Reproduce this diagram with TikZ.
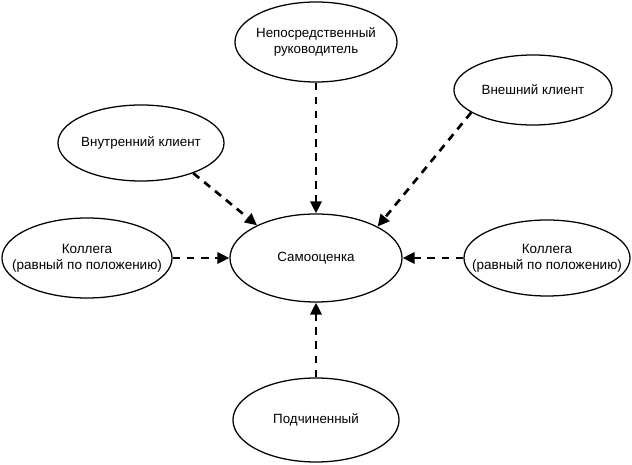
\documentclass[tikz,border=0pt]{standalone}
\usepackage{fontspec}
\setmainfont{Liberation Sans}
\usetikzlibrary{shapes.geometric, arrows.meta}
\tikzset{
    role node/.style={ellipse, draw, line width=0.9pt, font=\fontsize{9.5}{11}\selectfont, align=center, inner xsep=-8pt, inner ysep=0pt},
    peer node/.style={role node, font=\fontsize{9.6}{11.5}\selectfont, inner xsep=-26pt},
    link/.style={line width=1.9pt, dash pattern=on 5.5pt off 4.5pt, -{Triangle[length=8.5pt, width=8pt]}},
}

\begin{document}
\begin{tikzpicture}[x={(0.025cm,0)}, y={(0,-0.025cm)}]
    \useasboundingbox (0,0) rectangle (632,465);
    \node[role node, minimum width=4.05cm, minimum height=2.0cm] (boss) at (316,42) {Непосредственный\\руководитель};
    \node[role node, minimum width=3.95cm, minimum height=1.75cm] (outer) at (533,90) {Внешний клиент};
    \node[role node, minimum width=4.15cm, minimum height=1.9cm] (inner) at (141,143) {Внутренний клиент};
    \node[role node, minimum width=4.3cm, minimum height=2.2cm] (self) at (316,258) {Самооценка};
    \node[peer node, minimum width=4.25cm, minimum height=2.0cm] (peerl) at (87,258) {Коллега\\(равный по положению)};
    \node[peer node, minimum width=4.15cm, minimum height=1.9cm] (peerr) at (547,258) {Коллега\\(равный по положению)};
    \node[role node, minimum width=4.15cm, minimum height=2.1cm] (sub) at (316,420) {Подчиненный};

    \draw[link] (boss.south) -- (self.north);
    \draw[link] (inner.-30) -- (self.151);
    \draw[link] (outer.200) -- (self.27);
    \draw[link] (peerl.east) -- (self.west);
    \draw[link] (peerr.west) -- (self.east);
    \draw[link] (sub.north) -- (self.south);
\end{tikzpicture}
\end{document}
